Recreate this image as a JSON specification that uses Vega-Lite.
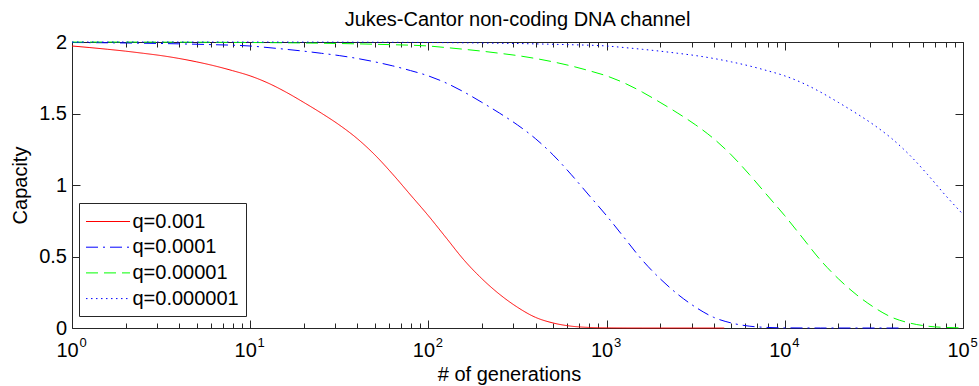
{
  "$schema": "https://vega.github.io/schema/vega-lite/v6.json",
  "width": 891,
  "height": 286,
  "autosize": {"type": "none"},
  "padding": {"left": 72, "top": 42, "right": 16, "bottom": 58},
  "background": "white",
  "title": {
    "text": "Jukes-Cantor non-coding DNA channel",
    "fontSize": 20, "fontWeight": "normal", "font": "Liberation Sans", "color": "black",
    "anchor": "middle", "frame": "group", "offset": 16, "dy": 14
  },
  "config": {
    "font": "Liberation Sans",
    "view": {"stroke": null},
    "axis": {
      "grid": false, "domainColor": "#262626", "tickColor": "#262626", "domainWidth": 1, "tickWidth": 1,
      "labelColor": "black", "titleColor": "black", "labelFont": "Liberation Sans", "titleFont": "Liberation Sans",
      "labelFontSize": 20, "titleFontSize": 20, "titleFontWeight": "normal",
      "labelFlush": false, "labelOverlap": false, "labelBound": false
    }
  },
  "data": {
    "values": [
      {"q": "q=0.001", "n": 1, "C": 1.972},
      {"q": "q=0.001", "n": 1.259, "C": 1.961},
      {"q": "q=0.001", "n": 1.585, "C": 1.949},
      {"q": "q=0.001", "n": 1.995, "C": 1.936},
      {"q": "q=0.001", "n": 2.512, "C": 1.921},
      {"q": "q=0.001", "n": 3.162, "C": 1.905},
      {"q": "q=0.001", "n": 3.981, "C": 1.885},
      {"q": "q=0.001", "n": 5.012, "C": 1.861},
      {"q": "q=0.001", "n": 6.31, "C": 1.833},
      {"q": "q=0.001", "n": 7.943, "C": 1.8},
      {"q": "q=0.001", "n": 10, "C": 1.763},
      {"q": "q=0.001", "n": 12.59, "C": 1.713},
      {"q": "q=0.001", "n": 15.85, "C": 1.65},
      {"q": "q=0.001", "n": 19.95, "C": 1.578},
      {"q": "q=0.001", "n": 25.12, "C": 1.502},
      {"q": "q=0.001", "n": 31.62, "C": 1.42},
      {"q": "q=0.001", "n": 39.81, "C": 1.325},
      {"q": "q=0.001", "n": 50.12, "C": 1.21},
      {"q": "q=0.001", "n": 63.1, "C": 1.075},
      {"q": "q=0.001", "n": 79.43, "C": 0.93},
      {"q": "q=0.001", "n": 100, "C": 0.785},
      {"q": "q=0.001", "n": 125.9, "C": 0.63},
      {"q": "q=0.001", "n": 158.5, "C": 0.475},
      {"q": "q=0.001", "n": 199.5, "C": 0.345},
      {"q": "q=0.001", "n": 251.2, "C": 0.235},
      {"q": "q=0.001", "n": 316.2, "C": 0.145},
      {"q": "q=0.001", "n": 398.1, "C": 0.075},
      {"q": "q=0.001", "n": 501.2, "C": 0.035},
      {"q": "q=0.001", "n": 631, "C": 0.013},
      {"q": "q=0.001", "n": 794.3, "C": 0.004},
      {"q": "q=0.001", "n": 1000, "C": 0.001},
      {"q": "q=0.001", "n": 1585, "C": 0},
      {"q": "q=0.001", "n": 2512, "C": 0},
      {"q": "q=0.001", "n": 4571, "C": 0},

      {"q": "q=0.0001", "n": 1, "C": 1.9965},
      {"q": "q=0.0001", "n": 1.585, "C": 1.9945},
      {"q": "q=0.0001", "n": 2.512, "C": 1.9915},
      {"q": "q=0.0001", "n": 3.981, "C": 1.987},
      {"q": "q=0.0001", "n": 6.31, "C": 1.981},
      {"q": "q=0.0001", "n": 10, "C": 1.972},
      {"q": "q=0.0001", "n": 12.59, "C": 1.961},
      {"q": "q=0.0001", "n": 15.85, "C": 1.949},
      {"q": "q=0.0001", "n": 19.95, "C": 1.936},
      {"q": "q=0.0001", "n": 25.12, "C": 1.921},
      {"q": "q=0.0001", "n": 31.62, "C": 1.905},
      {"q": "q=0.0001", "n": 39.81, "C": 1.885},
      {"q": "q=0.0001", "n": 50.12, "C": 1.861},
      {"q": "q=0.0001", "n": 63.1, "C": 1.833},
      {"q": "q=0.0001", "n": 79.43, "C": 1.8},
      {"q": "q=0.0001", "n": 100, "C": 1.763},
      {"q": "q=0.0001", "n": 125.9, "C": 1.713},
      {"q": "q=0.0001", "n": 158.5, "C": 1.65},
      {"q": "q=0.0001", "n": 199.5, "C": 1.578},
      {"q": "q=0.0001", "n": 251.2, "C": 1.502},
      {"q": "q=0.0001", "n": 316.2, "C": 1.42},
      {"q": "q=0.0001", "n": 398.1, "C": 1.325},
      {"q": "q=0.0001", "n": 501.2, "C": 1.21},
      {"q": "q=0.0001", "n": 631, "C": 1.075},
      {"q": "q=0.0001", "n": 794.3, "C": 0.93},
      {"q": "q=0.0001", "n": 1000, "C": 0.785},
      {"q": "q=0.0001", "n": 1259, "C": 0.63},
      {"q": "q=0.0001", "n": 1585, "C": 0.475},
      {"q": "q=0.0001", "n": 1995, "C": 0.345},
      {"q": "q=0.0001", "n": 2512, "C": 0.235},
      {"q": "q=0.0001", "n": 3162, "C": 0.145},
      {"q": "q=0.0001", "n": 3981, "C": 0.075},
      {"q": "q=0.0001", "n": 5012, "C": 0.035},
      {"q": "q=0.0001", "n": 6310, "C": 0.013},
      {"q": "q=0.0001", "n": 7943, "C": 0.004},
      {"q": "q=0.0001", "n": 10000, "C": 0.001},
      {"q": "q=0.0001", "n": 15850, "C": 0},
      {"q": "q=0.0001", "n": 25120, "C": 0},
      {"q": "q=0.0001", "n": 45710, "C": 0},

      {"q": "q=0.00001", "n": 1, "C": 1.9996},
      {"q": "q=0.00001", "n": 3.162, "C": 1.999},
      {"q": "q=0.00001", "n": 10, "C": 1.9965},
      {"q": "q=0.00001", "n": 15.85, "C": 1.9945},
      {"q": "q=0.00001", "n": 25.12, "C": 1.9915},
      {"q": "q=0.00001", "n": 39.81, "C": 1.987},
      {"q": "q=0.00001", "n": 63.1, "C": 1.981},
      {"q": "q=0.00001", "n": 100, "C": 1.972},
      {"q": "q=0.00001", "n": 125.9, "C": 1.961},
      {"q": "q=0.00001", "n": 158.5, "C": 1.949},
      {"q": "q=0.00001", "n": 199.5, "C": 1.936},
      {"q": "q=0.00001", "n": 251.2, "C": 1.921},
      {"q": "q=0.00001", "n": 316.2, "C": 1.905},
      {"q": "q=0.00001", "n": 398.1, "C": 1.885},
      {"q": "q=0.00001", "n": 501.2, "C": 1.861},
      {"q": "q=0.00001", "n": 631, "C": 1.833},
      {"q": "q=0.00001", "n": 794.3, "C": 1.8},
      {"q": "q=0.00001", "n": 1000, "C": 1.763},
      {"q": "q=0.00001", "n": 1259, "C": 1.713},
      {"q": "q=0.00001", "n": 1585, "C": 1.65},
      {"q": "q=0.00001", "n": 1995, "C": 1.578},
      {"q": "q=0.00001", "n": 2512, "C": 1.502},
      {"q": "q=0.00001", "n": 3162, "C": 1.42},
      {"q": "q=0.00001", "n": 3981, "C": 1.325},
      {"q": "q=0.00001", "n": 5012, "C": 1.21},
      {"q": "q=0.00001", "n": 6310, "C": 1.075},
      {"q": "q=0.00001", "n": 7943, "C": 0.93},
      {"q": "q=0.00001", "n": 10000, "C": 0.785},
      {"q": "q=0.00001", "n": 12590, "C": 0.63},
      {"q": "q=0.00001", "n": 15850, "C": 0.475},
      {"q": "q=0.00001", "n": 19950, "C": 0.345},
      {"q": "q=0.00001", "n": 25120, "C": 0.235},
      {"q": "q=0.00001", "n": 31620, "C": 0.145},
      {"q": "q=0.00001", "n": 39810, "C": 0.075},
      {"q": "q=0.00001", "n": 50120, "C": 0.035},
      {"q": "q=0.00001", "n": 63100, "C": 0.013},
      {"q": "q=0.00001", "n": 79430, "C": 0.004},
      {"q": "q=0.00001", "n": 100000, "C": 0.001},

      {"q": "q=0.000001", "n": 1, "C": 1.9999},
      {"q": "q=0.000001", "n": 10, "C": 1.9996},
      {"q": "q=0.000001", "n": 31.62, "C": 1.999},
      {"q": "q=0.000001", "n": 100, "C": 1.9965},
      {"q": "q=0.000001", "n": 158.5, "C": 1.9945},
      {"q": "q=0.000001", "n": 251.2, "C": 1.9915},
      {"q": "q=0.000001", "n": 398.1, "C": 1.987},
      {"q": "q=0.000001", "n": 631, "C": 1.981},
      {"q": "q=0.000001", "n": 1000, "C": 1.972},
      {"q": "q=0.000001", "n": 1259, "C": 1.961},
      {"q": "q=0.000001", "n": 1585, "C": 1.949},
      {"q": "q=0.000001", "n": 1995, "C": 1.936},
      {"q": "q=0.000001", "n": 2512, "C": 1.921},
      {"q": "q=0.000001", "n": 3162, "C": 1.905},
      {"q": "q=0.000001", "n": 3981, "C": 1.885},
      {"q": "q=0.000001", "n": 5012, "C": 1.861},
      {"q": "q=0.000001", "n": 6310, "C": 1.833},
      {"q": "q=0.000001", "n": 7943, "C": 1.8},
      {"q": "q=0.000001", "n": 10000, "C": 1.763},
      {"q": "q=0.000001", "n": 12590, "C": 1.713},
      {"q": "q=0.000001", "n": 15850, "C": 1.65},
      {"q": "q=0.000001", "n": 19950, "C": 1.578},
      {"q": "q=0.000001", "n": 25120, "C": 1.502},
      {"q": "q=0.000001", "n": 31620, "C": 1.42},
      {"q": "q=0.000001", "n": 39810, "C": 1.325},
      {"q": "q=0.000001", "n": 50120, "C": 1.21},
      {"q": "q=0.000001", "n": 63100, "C": 1.075},
      {"q": "q=0.000001", "n": 79430, "C": 0.93},
      {"q": "q=0.000001", "n": 100000, "C": 0.795}
    ]
  },
  "layer": [
    {
      "mark": {"type": "line", "strokeWidth": 1, "interpolate": "monotone"},
      "encoding": {
        "x": {
          "field": "n", "type": "quantitative",
          "scale": {"type": "log", "domain": [1, 100000], "nice": false},
          "axis": {
            "orient": "bottom", "values": [1, 10, 100, 1000, 10000, 100000],
            "tickSize": -8, "labelExpr": "'10'", "labelOffset": -5, "labelAlign": "center",
            "labelBaseline": "alphabetic", "labelPadding": 36,
            "title": "# of generations", "titleX": 437, "titleY": 52,
            "titleBaseline": "alphabetic", "titleAlign": "center"
          }
        },
        "y": {
          "field": "C", "type": "quantitative",
          "scale": {"domain": [0, 2], "nice": false, "zero": false},
          "axis": {
            "orient": "left", "values": [0, 0.5, 1, 1.5, 2], "format": "~g",
            "tickSize": -8, "labelPadding": 13.5,
            "title": "Capacity", "titleX": -46, "titleY": 143, "titleAngle": 270,
            "titleBaseline": "alphabetic", "titleAlign": "center"
          }
        },
        "color": {
          "field": "q", "type": "nominal",
          "scale": {
            "domain": ["q=0.001", "q=0.0001", "q=0.00001", "q=0.000001"],
            "range": ["#ff0000", "#0000ff", "#00ff00", "#0000ff"]
          },
          "legend": {
            "title": null, "orient": "none", "legendX": 7, "legendY": 161,
            "symbolType": "M-2,0H2", "symbolSize": 484, "symbolStrokeWidth": 1,
            "symbolOffset": 10.5, "labelOffset": 13,
            "labelFontSize": 20, "labelColor": "black", "labelFont": "Liberation Sans", "labelLimit": 0,
            "strokeColor": "#262626", "fillColor": "white", "padding": 7, "rowPadding": 3.7, "cornerRadius": 0
          }
        },
        "strokeDash": {
          "field": "q", "type": "nominal",
          "scale": {
            "domain": ["q=0.001", "q=0.0001", "q=0.00001", "q=0.000001"],
            "range": [[1, 0], [12, 5, 2, 5], [12, 6], [1.5, 3.5]]
          },
          "legend": {
            "title": null, "orient": "none", "legendX": 7, "legendY": 161,
            "symbolType": "M-2,0H2", "symbolSize": 484, "symbolStrokeWidth": 1,
            "symbolOffset": 10.5, "labelOffset": 13,
            "labelFontSize": 20, "labelColor": "black", "labelFont": "Liberation Sans", "labelLimit": 0,
            "strokeColor": "#262626", "fillColor": "white", "padding": 7, "rowPadding": 3.7, "cornerRadius": 0
          }
        }
      }
    },
    {
      "mark": {"type": "point", "opacity": 0},
      "encoding": {
        "x": {
          "field": "n", "type": "quantitative", "scale": {"type": "log"},
          "axis": {
            "orient": "bottom", "title": null, "labels": false, "domain": false, "tickSize": -5,
            "values": [2, 3, 4, 5, 6, 7, 8, 9, 20, 30, 40, 50, 60, 70, 80, 90, 200, 300, 400, 500, 600, 700, 800, 900, 2000, 3000, 4000, 5000, 6000, 7000, 8000, 9000, 20000, 30000, 40000, 50000, 60000, 70000, 80000, 90000]
          }
        },
        "y": {
          "field": "C", "type": "quantitative",
          "axis": {"orient": "right", "title": null, "labels": false, "tickSize": -8, "values": [0, 0.5, 1, 1.5, 2]}
        }
      }
    },
    {
      "mark": {"type": "point", "opacity": 0},
      "encoding": {
        "x": {
          "field": "n", "type": "quantitative", "scale": {"type": "log"},
          "axis": {"orient": "top", "title": null, "labels": false, "tickSize": -8, "values": [1, 10, 100, 1000, 10000, 100000]}
        },
        "y": {"field": "C", "type": "quantitative", "axis": null}
      }
    },
    {
      "mark": {"type": "point", "opacity": 0},
      "encoding": {
        "x": {
          "field": "n", "type": "quantitative", "scale": {"type": "log"},
          "axis": {
            "orient": "top", "title": null, "labels": false, "domain": false, "tickSize": -5,
            "values": [2, 3, 4, 5, 6, 7, 8, 9, 20, 30, 40, 50, 60, 70, 80, 90, 200, 300, 400, 500, 600, 700, 800, 900, 2000, 3000, 4000, 5000, 6000, 7000, 8000, 9000, 20000, 30000, 40000, 50000, 60000, 70000, 80000, 90000]
          }
        },
        "y": {"field": "C", "type": "quantitative", "axis": null}
      }
    },
    {
      "mark": {"type": "point", "opacity": 0},
      "encoding": {
        "x": {
          "field": "n", "type": "quantitative", "scale": {"type": "log"},
          "axis": {
            "orient": "bottom", "title": null, "ticks": false, "tickSize": 0, "domain": false,
            "values": [1, 10, 100, 1000, 10000, 100000],
            "labelExpr": "'' + round(log(datum.value) / LN10)",
            "labelFontSize": 13, "labelOffset": 10.5, "labelAlign": "center",
            "labelBaseline": "alphabetic", "labelPadding": 18
          }
        },
        "y": {"field": "C", "type": "quantitative", "axis": null}
      }
    }
  ],
  "resolve": {"axis": {"x": "independent", "y": "independent"}}
}
